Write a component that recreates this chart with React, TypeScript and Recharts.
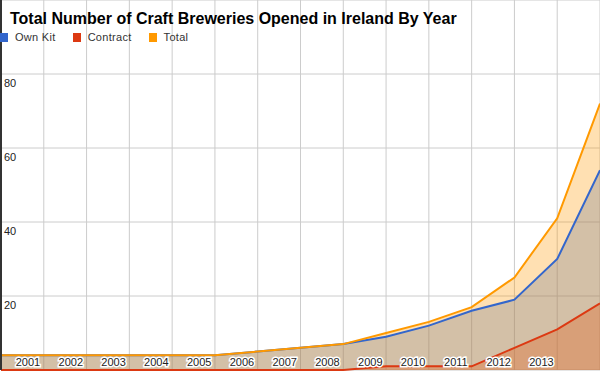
import { ComposedChart, Area, Line, XAxis, YAxis, CartesianGrid, Legend } from 'recharts';

const yearLabels = ['2001', '2002', '2003', '2004', '2005', '2006', '2007', '2008', '2009', '2010', '2011', '2012', '2013'];
const ownKit = [4, 4, 4, 4, 4, 4, 5, 6, 7, 9, 12, 16, 19, 30, 54];
const contract = [0, 0, 0, 0, 0, 0, 0, 0, 0, 1, 1, 1, 6, 11, 18];
const total = [4, 4, 4, 4, 4, 4, 5, 6, 7, 10, 13, 17, 25, 41, 72];
const yTicks = [0, 20, 40, 60, 80, 100];

const FONT = 'Arial, "Liberation Sans", sans-serif';
const series = [
  { key: 'Own Kit', color: '#3366CC' },
  { key: 'Contract', color: '#DC3912' },
  { key: 'Total', color: '#FF9900' },
];

const data = total.map((t, i) => ({
  idx: i,
  'Own Kit': ownKit[i],
  Contract: contract[i],
  Total: t,
}));
const xTicks = data.map(d => d.idx);

function XTick({ x, y, payload }: any) {
  const label = yearLabels[payload.value];
  if (!label) return <g />;
  return (
    <text x={x + 27} y={y - 4} textAnchor="middle" fontSize={11} fontFamily={FONT}
      fill="#222" stroke="#fff" strokeWidth={3} paintOrder="stroke">
      {label}
    </text>
  );
}

function YTick({ x, y, payload }: any) {
  if (payload.value === 0 || payload.value === 100) return <g />;
  return (
    <text x={x + 3} y={y + 13} textAnchor="start" fontSize={11} fontFamily={FONT} fill="#222">
      {payload.value}
    </text>
  );
}

// legend drawn from the series list (keeps Google's order, no duplicates from the areas)
function LegendContent() {
  return (
    <div style={{ display: 'flex', fontFamily: FONT, fontSize: 11, color: '#333', lineHeight: '13px' }}>
      {series.map(s => (
        <div key={s.key} style={{ display: 'flex', alignItems: 'center', marginRight: 17 }}>
          <span style={{ display: 'inline-block', width: 8, height: 9, background: s.color, marginRight: 7 }} />
          <span style={{ letterSpacing: 0.3 }}>{s.key}</span>
        </div>
      ))}
    </div>
  );
}

export default function App() {
  return (
    <div style={{ position: 'absolute', left: 0, top: 0, width: 600, height: 371, background: '#fff', overflow: 'hidden' }}>
      <ComposedChart width={600} height={371} data={data} margin={{ top: 0, right: 0, left: 0, bottom: 0 }}>
        <CartesianGrid stroke="#ccc" />
        <XAxis type="number" dataKey="idx" domain={[0, 14]} ticks={xTicks} interval={0}
          height={1} axisLine={false} tickLine={false} tickSize={0} tickMargin={0} tick={XTick} />
        <YAxis type="number" domain={[0, 100]} ticks={yTicks} interval={0} width={1}
          axisLine={{ stroke: '#333', strokeWidth: 2 }} tickLine={false} tickSize={0} tickMargin={0} tick={YTick} />
        {series.map(s => (
          <Area key={'a' + s.key} type="linear" dataKey={s.key} stroke="none" fill={s.color}
            fillOpacity={0.3} legendType="none" activeDot={false} isAnimationActive={false} />
        ))}
        {series.map(s => (
          <Line key={'l' + s.key} type="linear" dataKey={s.key} name={s.key} stroke={s.color}
            strokeWidth={2} dot={false} activeDot={false} isAnimationActive={false} />
        ))}
        <Legend verticalAlign="middle" layout="horizontal" content={<LegendContent />}
          wrapperStyle={{ top: 31, left: 0, width: 'auto' }} />
      </ComposedChart>
      <div style={{ position: 'absolute', left: 10, top: 9, fontFamily: FONT, fontWeight: 'bold', fontSize: 16, lineHeight: '20px', color: '#000' }}>
        Total Number of Craft Breweries Opened in Ireland By Year
      </div>
    </div>
  );
}
